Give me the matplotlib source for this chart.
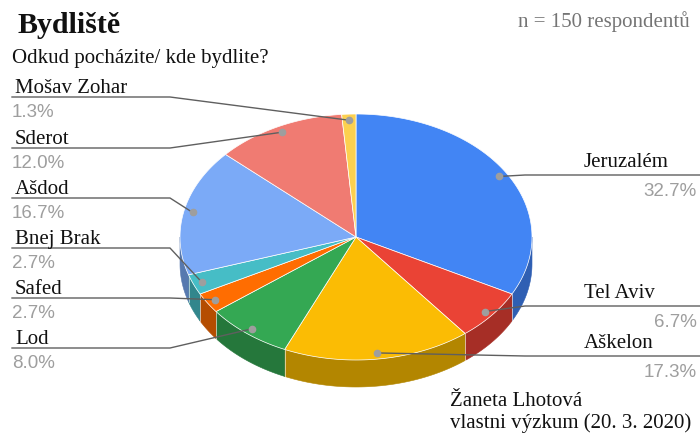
import numpy as np
import matplotlib.pyplot as plt
from matplotlib.patches import Polygon

regions = ["Jeruzalém", "Tel Aviv", "Aškelon", "Lod", "Safed",
           "Bnej Brak", "Ašdod", "Sderot", "Mošav Zohar"]
shares = [32.7, 6.7, 17.3, 8.0, 2.7, 2.7, 16.7, 12.0, 1.3]

top_colors = ["#4285F4", "#EA4335", "#FBBC04", "#34A853", "#FF6D01",
              "#46BDC6", "#7BAAF7", "#F07B72", "#FCD04F"]
side_colors = ["#2F5FB3", "#A62E26", "#B38600", "#25773B", "#B54D01",
               "#32868C", "#5779AF", "#AB5751", "#B39438"]

# leader line height for each label (pixels from the top)
label_side = ["right", "right", "right", "left", "left", "left", "left", "left", "left"]
label_line_y = [175, 306, 356, 348, 298, 248, 198, 148, 97]

# pie geometry in pixels
cx, cy = 356, 237
rx, ry = 176, 123
depth = 27

serif = "Liberation Serif"
sans = "Liberation Sans"


def ell(theta, f=1.0, dy=0.0):
    t = np.radians(theta)
    return cx + f * rx * np.sin(t), cy - f * ry * np.cos(t) + dy


def arc(a, b, dy=0.0):
    n = max(int(abs(b - a)) + 2, 3)
    th = np.linspace(a, b, n)
    x, y = ell(th, dy=dy)
    return np.column_stack([x, y])


def bydliste():
    fig = plt.figure(figsize=(7, 4.43), dpi=100)
    ax = fig.add_axes([0, 0, 1, 1])
    ax.set_xlim(0, 700)
    ax.set_ylim(443, 0)
    ax.axis("off")

    total = sum(shares)
    bounds = np.concatenate([[0], np.cumsum(shares)]) / total * 360

    # side walls (only the front half is visible)
    for i in range(len(shares)):
        a, b = max(bounds[i], 90), min(bounds[i + 1], 270)
        if b <= a:
            continue
        top = arc(a, b)
        bottom = arc(b, a, dy=depth)
        ax.add_patch(Polygon(np.vstack([top, bottom]), closed=True,
                             facecolor=side_colors[i], edgecolor=side_colors[i],
                             lw=0.4, zorder=1))
        for edge in (a, b):
            if edge in (bounds[i], bounds[i + 1]) and 90 < edge < 270:
                x0, y0 = ell(edge)
                ax.plot([x0, x0], [y0, y0 + depth], color="white",
                        lw=0.5, alpha=0.5, zorder=1.5)

    # top faces
    for i in range(len(shares)):
        pts = np.vstack([[cx, cy], arc(bounds[i], bounds[i + 1])])
        ax.add_patch(Polygon(pts, closed=True, facecolor=top_colors[i],
                             edgecolor="white", lw=0.5, zorder=2))

    # leader lines and labels
    for i, name in enumerate(regions):
        mid = (bounds[i] + bounds[i + 1]) / 2
        dx, dy = ell(mid, f=0.95)
        ly = label_line_y[i]
        pct = f"{shares[i]:.1f}%"
        if label_side[i] == "left":
            ax.plot([12, 170, dx], [ly, ly, dy], color="#5f5f5f", lw=1, zorder=3)
            ax.text(15, ly - 4, name, family=serif, fontsize=15,
                    color="#111111", va="baseline", ha="left")
            ax.text(12, ly + 20, pct, family=sans, fontsize=13.5,
                    color="#9e9e9e", va="baseline", ha="left")
        else:
            ax.plot([dx, 525, 700], [dy, ly, ly], color="#5f5f5f", lw=1, zorder=3)
            ax.text(584, ly - 8, name, family=serif, fontsize=15,
                    color="#111111", va="baseline", ha="left")
            ax.text(697, ly + 21, pct, family=sans, fontsize=13.5,
                    color="#9e9e9e", va="baseline", ha="right")
        ax.plot(dx, dy, "o", ms=4.5, color="#9e9e9e", zorder=4)

    ax.text(18, 33, "Bydliště", family=serif, fontsize=21.5,
            fontweight="bold", color="#111111", va="baseline")
    ax.text(12, 63, "Odkud pocházite/ kde bydlite?", family=serif,
            fontsize=15, color="#111111", va="baseline")
    ax.text(690, 27, "n = 150 respondentů", family=serif, fontsize=15,
            color="#757575", va="baseline", ha="right")
    ax.text(450, 406, "Žaneta Lhotová", family=serif, fontsize=15,
            color="#111111", va="baseline")
    ax.text(450, 428, "vlastni výzkum (20. 3. 2020)", family=serif,
            fontsize=15, color="#111111", va="baseline")

    fig.savefig("out.png", dpi=100)


if __name__ == "__main__":
    bydliste()
